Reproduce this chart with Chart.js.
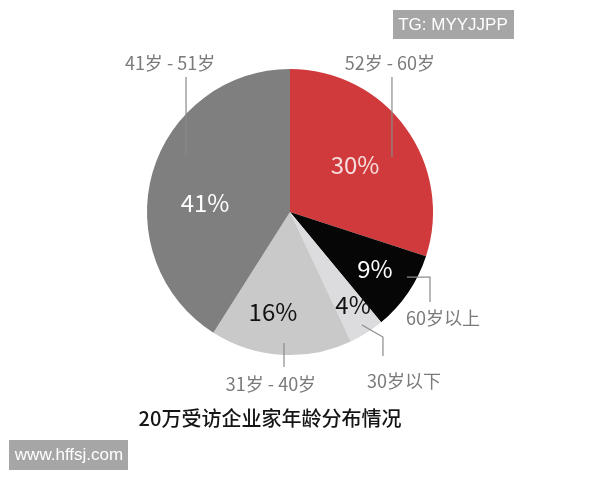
<!DOCTYPE html>
<html>
<head>
<meta charset="utf-8">
<script src="https://cdn.jsdelivr.net/npm/chart.js@4"></script>
<style>
  html, body { margin: 0; padding: 0; background: #fff; }
  #wrap { width: 600px; height: 480px; position: relative; }
</style>
</head>
<body>
<div id="wrap"><canvas id="age-chart"></canvas></div>
<script>
// slices run clockwise from 12 o'clock
const categories = ["52岁 - 60岁", "60岁以上", "30岁以下", "31岁 - 40岁", "41岁 - 51岁"];
const values = [30, 9, 4, 16, 41];
const title = "20万受访企业家年龄分布情况";

const colors = ["#d03a3c", "#060606", "#dcdcde", "#c9c9c9", "#7f7f7f"];
const pctColors = ["#f7dede", "#ffffff", "#111111", "#111111", "#ffffff"];

// positions in units of the pie radius, relative to its centre
const pctPos = [[0.455, -0.329], [0.594, 0.399], [0.441, 0.650], [-0.119, 0.699], [-0.594, -0.063]];
const namePos = [[0.699, -1.042], [1.070, 0.741], [0.797, 1.182], [-0.133, 1.203], [-0.839, -1.042]];
const leaders = [
  [[0.713, -0.944], [0.713, -0.385]],
  [[0.818, 0.455], [0.979, 0.455], [0.979, 0.629]],
  [[0.503, 0.790], [0.650, 0.874], [0.650, 1.007]],
  [[-0.042, 0.916], [-0.042, 1.084]],
  [[-0.727, -0.944], [-0.727, -0.399]],
];

const CJK = '"Noto Sans CJK SC", "Noto Sans", sans-serif';

const labelPlugin = {
  id: "labels",
  afterDatasetsDraw(chart) {
    const ctx = chart.ctx;
    const arcs = chart.getDatasetMeta(0).data;
    const cx = arcs[0].x, cy = arcs[0].y, R = arcs[0].outerRadius;
    const at = (p) => [cx + p[0] * R, cy + p[1] * R];
    ctx.save();
    ctx.textAlign = "center";
    ctx.textBaseline = "middle";

    // leader lines
    ctx.strokeStyle = "#8a8a8a";
    ctx.lineWidth = 1.2;
    leaders.forEach((pts) => {
      ctx.beginPath();
      pts.forEach((p, i) => {
        const [x, y] = at(p);
        i ? ctx.lineTo(x, y) : ctx.moveTo(x, y);
      });
      ctx.stroke();
    });

    // percentages inside slices
    ctx.font = "24px " + CJK;
    values.forEach((v, i) => {
      const [x, y] = at(pctPos[i]);
      ctx.fillStyle = pctColors[i];
      ctx.fillText(v + "%", x, y);
    });

    // category names outside
    ctx.font = "18px " + CJK;
    ctx.fillStyle = "#7a7a7a";
    categories.forEach((c, i) => {
      const [x, y] = at(namePos[i]);
      ctx.fillText(c, x, y);
    });

    // title under the pie
    ctx.font = "500 20px " + CJK;
    ctx.fillStyle = "#151515";
    ctx.fillText(title, cx - 20, cy + R + 63);

    // watermark boxes
    ctx.fillStyle = "#a6a6a6";
    ctx.fillRect(393, 10, 121, 29);
    ctx.fillRect(9, 440, 119, 30);
    ctx.fillStyle = "#ffffff";
    ctx.font = '17px "Liberation Sans", Arial, sans-serif';
    ctx.fillText("TG: MYYJJPP", 453, 25);
    ctx.fillText("www.hffsj.com", 69, 455);
    ctx.restore();
  },
};

new Chart(document.getElementById("age-chart"), {
  type: "pie",
  data: {
    labels: categories,
    datasets: [
      {
        data: values,
        backgroundColor: colors,
        borderWidth: 0,
      },
    ],
  },
  options: {
    responsive: true,
    maintainAspectRatio: false,
    animation: false,
    layout: { padding: { left: 147, right: 167, top: 69, bottom: 125 } },
    plugins: {
      legend: { display: false },
      tooltip: { enabled: false },
    },
  },
  plugins: [labelPlugin],
});
</script>
</body>
</html>
